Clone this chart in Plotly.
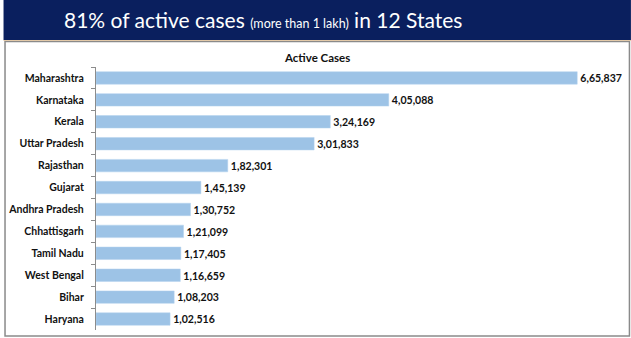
import plotly.graph_objects as go

states = ["Maharashtra", "Karnataka", "Kerala", "Uttar Pradesh", "Rajasthan", "Gujarat",
          "Andhra Pradesh", "Chhattisgarh", "Tamil Nadu", "West Bengal", "Bihar", "Haryana"]
active_cases = [665837, 405088, 324169, 301833, 182301, 145139,
                130752, 121099, 117405, 116659, 108203, 102516]
chart_title = "Active Cases"
banner_main = "81% of active cases"
banner_sub = "(more than 1 lakh)"
banner_end = "in 12 States"


def indian_format(n):
    s = str(int(n))
    if len(s) <= 3:
        return s
    last3 = s[-3:]
    rest = s[:-3]
    groups = []
    while len(rest) > 2:
        groups.insert(0, rest[-2:])
        rest = rest[:-2]
    if rest:
        groups.insert(0, rest)
    return ",".join(groups) + "," + last3


W, H = 631, 338
L, R, T, B = 93, 11, 67, 8
pw, ph = W - L - R, H - T - B


def px(x):
    return (x - L) / pw


def py(y):
    return (H - B - y) / ph


fig = go.Figure()
fig.add_trace(go.Bar(
    y=states, x=active_cases, orientation="h",
    marker=dict(color="#9dc3e6", line=dict(color="#b4d2ee", width=0.5)),
    text=[indian_format(v) for v in active_cases],
    textposition="outside", cliponaxis=False,
    textfont=dict(family="Lato", size=11, color="#111111", weight="bold"),
    width=0.57,
))

shapes = [
    # banner
    dict(type="rect", xref="paper", yref="paper", x0=px(0), x1=px(W), y0=py(0), y1=py(40),
         fillcolor="#0a1f5e", line=dict(width=0), layer="below"),
    # beige line
    dict(type="line", xref="paper", yref="paper", x0=px(0), x1=px(W), y0=py(40.5), y1=py(40.5),
         line=dict(color="#e3c9a8", width=1.2)),
    # chart frame
    dict(type="rect", xref="paper", yref="paper", x0=px(1.5), x1=px(629.5), y0=py(41.5), y1=py(336),
         line=dict(color="#8a8a8a", width=1.5), fillcolor="rgba(0,0,0,0)", layer="below"),
]

annotations = [
    dict(xref="paper", yref="paper", x=px(261), y=py(20), xanchor="center", yanchor="middle",
         showarrow=False,
         text=f"{banner_main} <span style='font-size:12.5px'>{banner_sub}</span> {banner_end}",
         font=dict(family="Lato", size=21, color="white")),
    dict(xref="paper", yref="paper", x=px(315), y=py(57.5), xanchor="center", yanchor="middle",
         showarrow=False, text=chart_title,
         font=dict(family="Lato", size=11.5, color="#111111", weight="bold")),
]

fig.update_layout(
    width=W, height=H,
    margin=dict(l=L, r=R, t=T, b=B),
    paper_bgcolor="white", plot_bgcolor="white",
    showlegend=False,
    bargap=0.43,
    shapes=shapes,
    annotations=annotations,
    xaxis=dict(range=[0, 725000], visible=False, showgrid=False, zeroline=False),
    yaxis=dict(autorange="reversed", type="category", showgrid=False,
               showline=True, linecolor="#8c8c8c", linewidth=1.2,
               ticks="outside", tickson="boundaries", ticklen=4, tickcolor="#8c8c8c",
               tickfont=dict(family="Lato", size=10.5, color="#111111", weight="bold"),
               ticklabelstandoff=9),
)

fig.write_html("out.html")
